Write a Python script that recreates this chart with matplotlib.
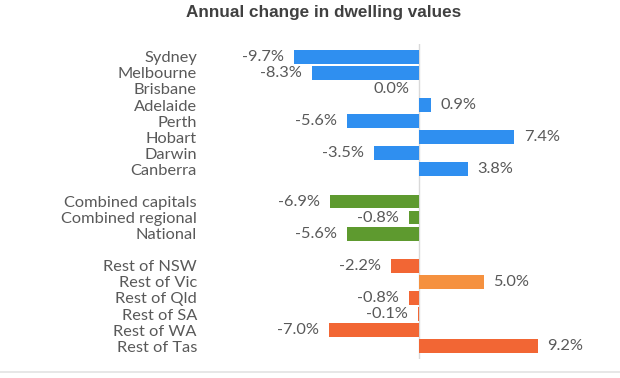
import numpy as np
import matplotlib.pyplot as plt
from matplotlib.lines import Line2D

# data
capitals = ['Sydney', 'Melbourne', 'Brisbane', 'Adelaide', 'Perth', 'Hobart', 'Darwin', 'Canberra']
capital_vals = [-9.7, -8.3, 0.0, 0.9, -5.6, 7.4, -3.5, 3.8]

combined = ['Combined capitals', 'Combined regional', 'National']
combined_vals = [-6.9, -0.8, -5.6]

regions = ['Rest of NSW', 'Rest of Vic', 'Rest of Qld', 'Rest of SA', 'Rest of WA', 'Rest of Tas']
region_vals = [-2.2, 5.0, -0.8, -0.1, -7.0, 9.2]

blue = '#2f8ff0'
green = '#5e9a2f'
orange = '#f26634'
light_orange = '#f5913f'
text_col = '#595959'

# build rows with a blank row between groups
labels, vals, colors = [], [], []
for name, v in zip(capitals, capital_vals):
    labels.append(name); vals.append(v); colors.append(blue)
labels.append(''); vals.append(None); colors.append(None)
for name, v in zip(combined, combined_vals):
    labels.append(name); vals.append(v); colors.append(green)
labels.append(''); vals.append(None); colors.append(None)
for name, v in zip(regions, region_vals):
    labels.append(name); vals.append(v)
    colors.append(light_orange if name == 'Rest of Vic' else orange)

W, H = 620, 378
fig = plt.figure(figsize=(W / 100, H / 100), dpi=100)
fig.patch.set_facecolor('white')

# axes placed in pixel terms: zero at x=419, ~12.9 px per unit
x0, x1 = 290, 548
y_top, y_bot = 44, 359
ax = fig.add_axes([x0 / W, 1 - y_bot / H, (x1 - x0) / W, (y_bot - y_top) / H])
ax.set_xlim(-10, 10)
ax.set_ylim(18.8, -0.8)

fs = 11.8
ys = np.arange(len(labels))
for y, v, c in zip(ys, vals, colors):
    if v is None:
        continue
    ax.barh(y, v, height=0.86, color=c, zorder=2)
    if v > 0:
        ax.annotate(f'{v:.1f}%', (v, y), xytext=(7, 0), textcoords='offset points',
                    ha='left', va='center', fontsize=fs, color=text_col, family='Lato')
    else:
        ax.annotate(f'{v:.1f}%', (v, y), xytext=(-7, 0), textcoords='offset points',
                    ha='right', va='center', fontsize=fs, color=text_col, family='Lato')

ax.axvline(0, color='#d9d9d9', lw=1, zorder=1)

ax.set_yticks(ys)
ax.set_yticklabels(labels, fontsize=fs, color=text_col, family='Lato')
ax.tick_params(axis='y', length=0, pad=67)
ax.set_xticks([])
for s in ax.spines.values():
    s.set_visible(False)

fig.text(324 / W, 1 - 13 / H, 'Annual change in dwelling values', ha='center', va='center',
         fontsize=12.3, fontweight='bold', color='#404040', family='Liberation Sans')

fig.add_artist(Line2D([0, 1], [1 - 372 / H, 1 - 372 / H], transform=fig.transFigure,
                      color='#e3e3e3', lw=1.2))

fig.savefig('out.png', dpi=100)
